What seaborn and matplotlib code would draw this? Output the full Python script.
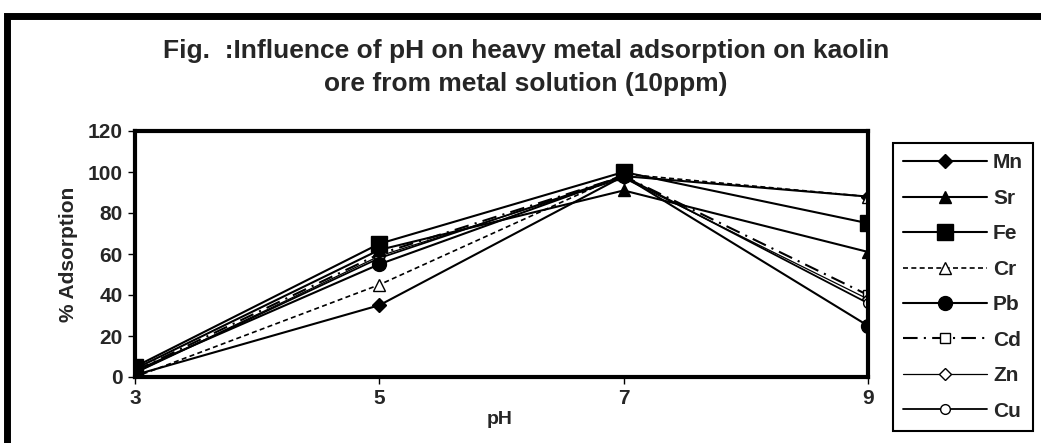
import matplotlib
matplotlib.use("Agg")
import matplotlib.pyplot as plt
import seaborn as sns
import pandas as pd
from matplotlib.patches import Rectangle

sns.set_theme(style="white")
plt.rcParams['font.family'] = ['Liberation Sans', 'DejaVu Sans']

ph = [3, 5, 7, 9]
ph_labels = ["3", "5", "7", "9"]
mn = [1, 35, 98, 88]
sr = [4, 62, 91, 61]
fe = [5, 65, 100, 75]
cr = [0, 45, 99, 88]
pb = [3, 55, 98, 25]
cd = [3, 60, 98, 40]
zn = [2, 59, 97, 38]
cu = [2, 58, 98, 36]

series = {"Mn": mn, "Sr": sr, "Fe": fe, "Cr": cr, "Pb": pb, "Cd": cd, "Zn": zn, "Cu": cu}

styles = {
    "Mn": dict(marker="D", ms=7, mfc="black", ls="-", lw=1.5, z=3),
    "Sr": dict(marker="^", ms=9, mfc="black", ls="-", lw=1.5, z=3),
    "Fe": dict(marker="s", ms=11, mfc="black", ls="-", lw=1.5, z=5),
    "Cr": dict(marker="^", ms=9, mfc="white", ls=(0, (3, 2)), lw=1.2, z=3),
    "Pb": dict(marker="o", ms=10, mfc="black", ls="-", lw=1.5, z=3),
    "Cd": dict(marker="s", ms=7, mfc="white", ls=(0, (7, 3, 1, 3)), lw=1.5, z=2),
    "Zn": dict(marker="D", ms=6, mfc="white", ls="-", lw=0.9, z=2),
    "Cu": dict(marker="o", ms=7, mfc="white", ls="-", lw=1.3, z=2),
}

fig = plt.figure(figsize=(10.41, 4.43), dpi=100)
ax = fig.add_axes([135/1041, 1-377/443, (868-135)/1041, (377-131)/443])

for name, vals in series.items():
    df = pd.DataFrame({"pH": ph, "val": vals})
    st = styles[name]
    sns.lineplot(data=df, x="pH", y="val", ax=ax, color="black", label=name,
                 marker=st["marker"], markersize=st["ms"], markerfacecolor=st["mfc"],
                 markeredgecolor="black", markeredgewidth=1.0,
                 linestyle=st["ls"], linewidth=st["lw"], legend=False, zorder=st["z"])

ax.set_xlim(3, 9)
ax.set_ylim(0, 120)
ax.set_xticks(ph)
ax.set_xticklabels(ph_labels)
ax.set_yticks([0, 20, 40, 60, 80, 100, 120])
for sp in ax.spines.values():
    sp.set_visible(True)
    sp.set_color("black")
    sp.set_linewidth(3)
    sp.set_zorder(6)
ax.tick_params(axis="both", which="both", direction="out", length=5, width=1,
               color="black", labelsize=15, bottom=True, left=True, pad=4)
for lab in ax.get_xticklabels() + ax.get_yticklabels():
    lab.set_fontweight("bold")
ax.set_xlabel("pH", fontsize=14, fontweight="bold", labelpad=0)
ax.set_ylabel("% Adsorption", fontsize=15, fontweight="bold")
ax.xaxis.set_label_coords(0.497, -0.14)
ax.yaxis.set_label_coords(-0.078, 0.5)

fig.text(0.505, 1-51/443, "Fig.  :Influence of pH on heavy metal adsorption on kaolin",
         ha="center", va="center", fontsize=19, fontweight="bold")
fig.text(0.505, 1-84/443, "ore from metal solution (10ppm)",
         ha="center", va="center", fontsize=19, fontweight="bold")

handles, labels = ax.get_legend_handles_labels()
leg = fig.legend(handles, labels, loc="upper left",
                 bbox_to_anchor=(893/1041, 1-143/443), bbox_transform=fig.transFigure,
                 frameon=True, fancybox=False, edgecolor="black", framealpha=1,
                 prop=dict(size=15, weight="bold"), labelspacing=0.79,
                 handlelength=4.0, handletextpad=0.3, borderpad=0.5, borderaxespad=0)
leg.get_frame().set_linewidth(1.5)

fig.add_artist(Rectangle((7/1041, -0.05), 1.1, 1-16/443+0.05, transform=fig.transFigure,
                         fill=False, edgecolor="black", linewidth=5, clip_on=False))

fig.savefig("out.png", dpi=100)
